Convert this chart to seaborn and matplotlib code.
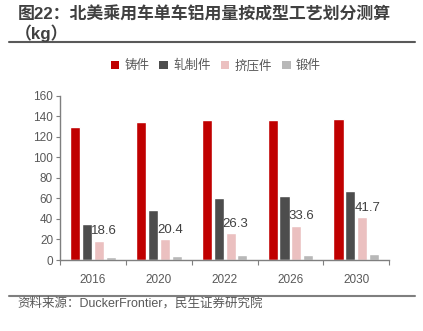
import matplotlib
matplotlib.use("Agg")
import matplotlib.pyplot as plt
import seaborn as sns
import pandas as pd
from matplotlib.lines import Line2D
from matplotlib.patches import Patch

years = ["2016", "2020", "2022", "2026", "2030"]
series = ["铸件", "轧制件", "挤压件", "锻件"]
casting = [130, 135, 136.3, 136.6, 137.6]
rolled = [34.8, 48.5, 60.2, 62.1, 67.0]
extrusion = [18.6, 20.4, 26.3, 33.6, 41.7]
forging = [2.6, 3.9, 4.9, 5.2, 6.2]
colors = ["#C00000", "#4D4D4D", "#EBC0C0", "#B8B8B8"]

sns.set_theme(style="white")
plt.rcParams["font.family"] = ["Liberation Sans", "Noto Sans CJK SC", "DejaVu Sans"]

rows = []
for s, vals in zip(series, [casting, rolled, extrusion, forging]):
    for y, v in zip(years, vals):
        rows.append({"year": y, "series": s, "value": v})
df = pd.DataFrame(rows)

fig = plt.figure(figsize=(4.23, 3.31), dpi=100)
ax = fig.add_axes([0.142, 0.2145, 0.778, 0.4955])
sns.barplot(data=df, x="year", y="value", hue="series", hue_order=series,
            order=years, palette=colors, width=0.72, gap=0.15, ax=ax,
            legend=False, errorbar=None, saturation=1)

ax.set_ylim(0, 160)
ax.set_yticks(range(0, 161, 20))
ax.set_xlim(-0.5, len(years) - 0.5)
ax.set_xlabel("")
ax.set_ylabel("")
gray = "#595959"
for sp in ["top", "right"]:
    ax.spines[sp].set_visible(False)
for sp in ["left", "bottom"]:
    ax.spines[sp].set_color("#7F7F7F")
    ax.spines[sp].set_linewidth(1.0)
ax.tick_params(axis="y", which="major", length=3, width=0.8, color="#7F7F7F",
               labelsize=8.5, labelcolor=gray, pad=2, left=True)
ax.tick_params(axis="x", which="major", length=0, labelsize=8.5, labelcolor=gray, pad=10)
ax.set_xticks([i - 0.5 for i in range(len(years) + 1)], minor=True)
ax.tick_params(axis="x", which="minor", length=3.5, width=0.8, color="#7F7F7F", bottom=True)

# data labels on extrusion bars
ext_container = ax.containers[2]
for bar, v in zip(ext_container, extrusion):
    ax.annotate(f"{v}", (bar.get_x(), bar.get_height()), xytext=(-2, 2.5),
                textcoords="offset points", ha="left", va="bottom",
                fontsize=9.5, color="#404040")

# legend
handles = [Patch(facecolor=c, edgecolor="none") for c in colors]
fig.legend(handles, series, loc="center", bbox_to_anchor=(0.51, 0.80), ncol=4,
           frameon=False, fontsize=9, handlelength=0.7, handleheight=0.7,
           handletextpad=0.4, columnspacing=0.8, labelcolor=gray)

# title
fig.text(0.043, 0.9396, "图22：北美乘用车单车铝用量按成型工艺划分测算", fontsize=12.2,
         fontweight="bold", color="#404040", ha="left", va="baseline")
fig.text(0.035, 0.8822, "（kg）", fontsize=12.2, fontweight="bold", color="#404040",
         ha="left", va="baseline")
fig.add_artist(Line2D([0.022, 0.981], [0.872, 0.872], color="#595959", lw=1.5,
                      transform=fig.transFigure))
fig.add_artist(Line2D([0.022, 0.981], [0.106, 0.106], color="#7F7F7F", lw=1.5,
                      transform=fig.transFigure))
fig.text(0.042, 0.082, "资料来源：DuckerFrontier，民生证券研究院", fontsize=9,
         color=gray, ha="left", va="center")

fig.savefig("out.png", dpi=100)
